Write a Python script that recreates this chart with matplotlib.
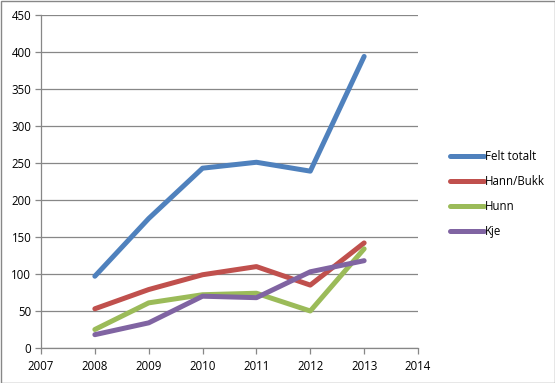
import matplotlib
matplotlib.use("Agg")
import matplotlib.pyplot as plt
from matplotlib.lines import Line2D
from matplotlib.patches import Rectangle

years = [2008, 2009, 2010, 2011, 2012, 2013]
felt_totalt = [97, 175, 243, 251, 239, 394]
hann_bukk = [53, 79, 99, 110, 85, 142]
hunn = [25, 61, 72, 74, 50, 134]
kje = [18, 34, 70, 68, 103, 118]
series_names = ["Felt totalt", "Hann/Bukk", "Hunn", "Kje"]
colors = ["#4F81BD", "#C0504D", "#9BBB59", "#8064A2"]
x_ticks = [2007, 2008, 2009, 2010, 2011, 2012, 2013, 2014]
y_ticks = [0, 50, 100, 150, 200, 250, 300, 350, 400, 450]

plt.rcParams['font.family'] = ['Open Sans', 'DejaVu Sans']
W, H = 555, 383
fig = plt.figure(figsize=(W / 100, H / 100), dpi=100)
ax = fig.add_axes([41 / W, 1 - 348 / H, (418 - 41) / W, (348 - 15) / H])

for name, vals, c in zip(series_names, [felt_totalt, hann_bukk, hunn, kje], colors):
    ax.plot(years, vals, color=c, lw=3.6, solid_capstyle='round', label=name)

ax.set_xlim(2007, 2014)
ax.set_ylim(0, 450)
ax.set_xticks(x_ticks)
ax.set_yticks(y_ticks)
ax.yaxis.grid(True, color="#878787", lw=0.9)
ax.set_axisbelow(True)
for s in ["top", "right"]:
    ax.spines[s].set_visible(False)
for s in ["left", "bottom"]:
    ax.spines[s].set_color("#878787")
    ax.spines[s].set_linewidth(0.9)
ax.tick_params(axis='both', colors="#878787", labelcolor="black", labelsize=8.3, length=4, width=0.9)
ax.tick_params(axis='y', pad=3)
ax.tick_params(axis='x', pad=5)

handles = [Line2D([0], [0], color=c, lw=3.6, solid_capstyle='round') for c in colors]
fig.legend(handles, series_names, loc='upper left', bbox_to_anchor=(445 / W, 1 - 145 / H),
           frameon=False, fontsize=8.3, handlelength=3.0, handletextpad=0.1,
           labelspacing=1.05, borderaxespad=0)

fig.patches.append(Rectangle((0.5 / W, 0.5 / H), 1 - 1 / W, 1 - 1 / H, transform=fig.transFigure,
                             fill=False, edgecolor="#878787", lw=1))
fig.savefig("out.png", dpi=100)
